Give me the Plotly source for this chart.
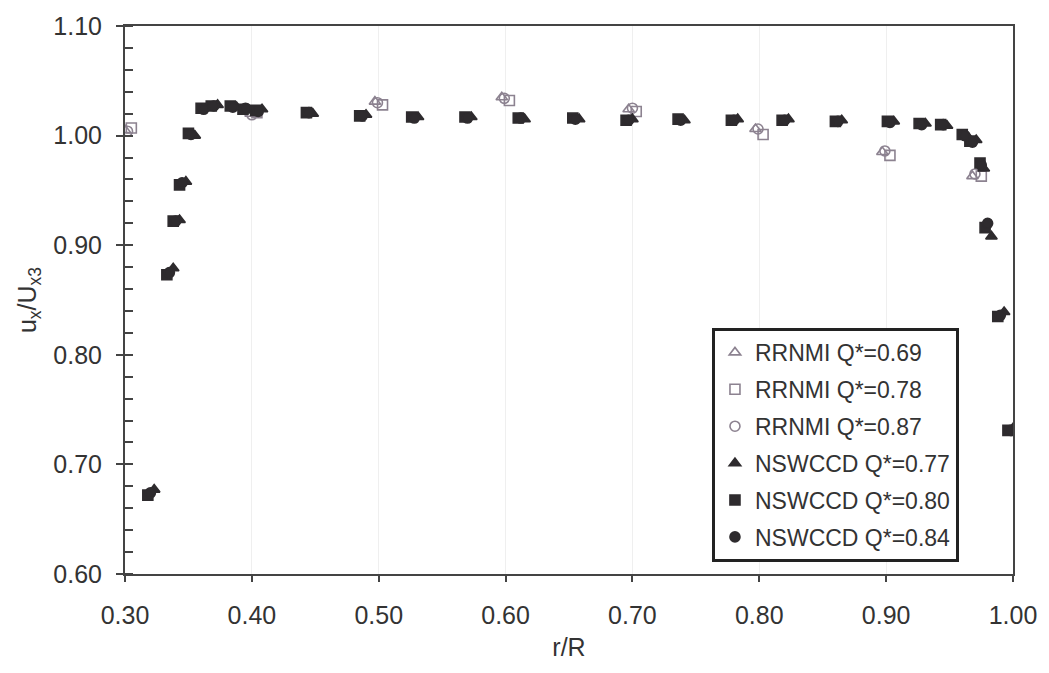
import plotly.graph_objects as go

# ---------------- data ----------------
# RRNMI (open markers)
rr_x_069 = [0.300, 0.399, 0.497, 0.597, 0.697, 0.797, 0.897, 0.968]
rr_y_069 = [1.005, 1.020, 1.031, 1.035, 1.024, 1.006, 0.985, 0.963]
rr_x_078 = [0.305, 0.404, 0.503, 0.603, 0.703, 0.803, 0.903, 0.975]
rr_y_078 = [1.007, 1.021, 1.028, 1.032, 1.022, 1.001, 0.982, 0.963]
rr_x_087 = [0.302, 0.400, 0.499, 0.599, 0.700, 0.799, 0.899, 0.970]
rr_y_087 = [1.004, 1.019, 1.030, 1.034, 1.025, 1.006, 0.986, 0.965]

# NSWCCD (filled markers)
ns_x_077 = [0.323, 0.338, 0.343, 0.348, 0.355, 0.365, 0.373, 0.388, 0.398, 0.408,
            0.448, 0.490, 0.531, 0.573, 0.615, 0.658, 0.700, 0.741, 0.783, 0.823,
            0.865, 0.906, 0.931, 0.948, 0.965, 0.971, 0.977, 0.983, 0.993, 1.000]
ns_y_077 = [0.677, 0.879, 0.923, 0.958, 1.000, 1.026, 1.028, 1.026, 1.023, 1.024,
            1.020, 1.019, 1.017, 1.017, 1.015, 1.015, 1.015, 1.014, 1.015, 1.015,
            1.014, 1.013, 1.011, 1.009, 0.998, 0.996, 0.970, 0.908, 0.839, 0.733]
ns_x_080 = [0.318, 0.333, 0.338, 0.343, 0.350, 0.360, 0.368, 0.383, 0.393, 0.403,
            0.443, 0.485, 0.526, 0.568, 0.610, 0.653, 0.695, 0.736, 0.778, 0.818,
            0.860, 0.901, 0.926, 0.943, 0.960, 0.966, 0.974, 0.978, 0.988, 0.996]
ns_y_080 = [0.672, 0.873, 0.922, 0.955, 1.002, 1.025, 1.027, 1.027, 1.024, 1.023,
            1.021, 1.018, 1.017, 1.017, 1.016, 1.016, 1.014, 1.015, 1.014, 1.014,
            1.013, 1.013, 1.011, 1.010, 1.001, 0.995, 0.975, 0.916, 0.835, 0.731]
ns_x_084 = [0.320, 0.335, 0.340, 0.345, 0.352, 0.362, 0.370, 0.385, 0.395, 0.405,
            0.445, 0.487, 0.528, 0.570, 0.612, 0.655, 0.697, 0.738, 0.780, 0.820,
            0.862, 0.903, 0.928, 0.945, 0.962, 0.968, 0.975, 0.980, 0.990, 0.998]
ns_y_084 = [0.674, 0.875, 0.922, 0.957, 1.001, 1.024, 1.027, 1.026, 1.025, 1.022,
            1.021, 1.018, 1.016, 1.016, 1.016, 1.015, 1.014, 1.014, 1.014, 1.014,
            1.013, 1.012, 1.010, 1.010, 1.000, 0.994, 0.973, 0.920, 0.836, 0.731]

x_ticks = [0.3, 0.4, 0.5, 0.6, 0.7, 0.8, 0.9, 1.0]
y_ticks = [0.6, 0.7, 0.8, 0.9, 1.0, 1.1]

FONT = "Liberation Sans, Arial, sans-serif"
OPEN_C = "#8c8290"
DARK_C = "#2e2b2e"
AX_C = "#444444"

series = [
    ("RRNMI Q*=0.69", rr_x_069, rr_y_069, "triangle-up-open", OPEN_C),
    ("RRNMI Q*=0.78", rr_x_078, rr_y_078, "square-open", OPEN_C),
    ("RRNMI Q*=0.87", rr_x_087, rr_y_087, "circle-open", OPEN_C),
    ("NSWCCD Q*=0.77", ns_x_077, ns_y_077, "triangle-up", DARK_C),
    ("NSWCCD Q*=0.80", ns_x_080, ns_y_080, "square", DARK_C),
    ("NSWCCD Q*=0.84", ns_x_084, ns_y_084, "circle", DARK_C),
]

fig = go.Figure()
for i, (name, xs, ys, sym, col) in enumerate(series):
    fig.add_trace(go.Scatter(
        x=xs, y=ys, mode="markers", name=name, legendgroup=f"g{i}",
        marker=dict(symbol=sym, size=10, color=col,
                    line=dict(color=col, width=1.6)),
    ))

fig.update_layout(
    width=1049, height=673,
    margin=dict(l=125, r=35, t=20, b=99),
    paper_bgcolor="white", plot_bgcolor="white",
    font=dict(family=FONT, size=25, color="#333333"),
    showlegend=True,
    legend=dict(
        x=0.661, y=0.449, xanchor="left", yanchor="top",
        bgcolor="white", bordercolor="#222222", borderwidth=3,
        font=dict(family=FONT, size=23, color="#333333"),
        tracegroupgap=4, itemwidth=30,
    ),
    xaxis=dict(
        range=[0.3, 1.0], tickvals=x_ticks, tickformat=".2f",
        showline=True, linecolor=AX_C, linewidth=2, mirror=True,
        ticks="outside", ticklen=6, tickwidth=2, tickcolor=AX_C,
        showgrid=True, gridcolor="#efefef", gridwidth=1,
        zeroline=False, ticklabelstandoff=12,
        title=dict(text="r/R", font=dict(size=25), standoff=10),
        tickfont=dict(size=25),
    ),
    yaxis=dict(
        range=[0.6, 1.1], tickvals=y_ticks, tickformat=".2f",
        showline=True, linecolor=AX_C, linewidth=2, mirror=True,
        ticks="outside", ticklen=7, tickwidth=2, tickcolor=AX_C,
        minor=dict(dtick=0.02, ticks="inside", ticklen=8, tickwidth=2,
                   tickcolor=AX_C, showgrid=False),
        showgrid=False, zeroline=False,
        ticklabelstandoff=9,
        title=dict(text="u<sub>x</sub>/U<sub>x3</sub>", font=dict(size=25), standoff=10),
        tickfont=dict(size=25),
    ),
)

fig.write_html("out.html")
